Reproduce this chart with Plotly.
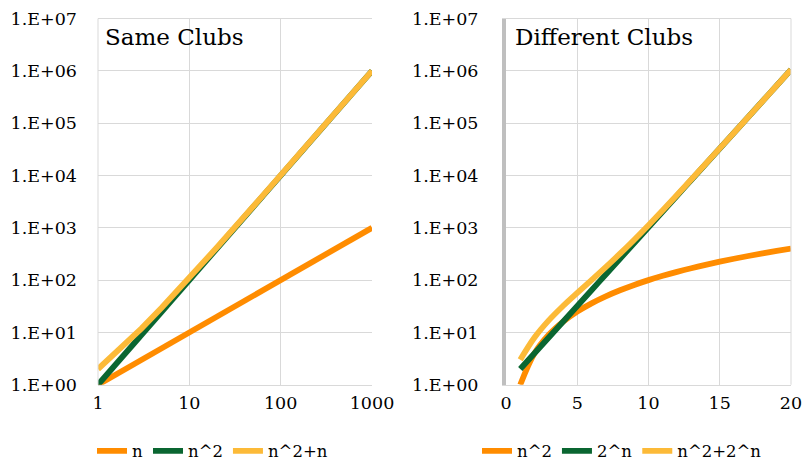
import plotly.graph_objects as go

# Left chart: Same Clubs
n_left = [1, 2, 3, 5, 10, 20, 50, 100, 200, 500, 1000]
s_n = [1, 2, 3, 5, 10, 20, 50, 100, 200, 500, 1000]
s_n2 = [1, 4, 9, 25, 100, 400, 2500, 10000, 40000, 250000, 1000000]
s_n2n = [2, 6, 12, 30, 110, 420, 2550, 10100, 40200, 250500, 1001000]

# Right chart: Different Clubs
n_right = list(range(1, 21))
d_n2 = [1, 4, 9, 16, 25, 36, 49, 64, 81, 100, 121, 144, 169, 196, 225, 256, 289, 324, 361, 400]
d_2n = [2, 4, 8, 16, 32, 64, 128, 256, 512, 1024, 2048, 4096, 8192, 16384, 32768,
        65536, 131072, 262144, 524288, 1048576]
d_sum = [3, 8, 17, 32, 57, 100, 177, 320, 593, 1124, 2169, 4240, 8361, 16580, 32993,
         65792, 131361, 262468, 524649, 1048976]

y_tickvals = [1, 10, 100, 1000, 10000, 100000, 1000000, 10000000]
y_ticktext = ["1.E+00", "1.E+01", "1.E+02", "1.E+03", "1.E+04", "1.E+05", "1.E+06", "1.E+07"]

ORANGE = "#FF8C00"
GREEN = "#0A6631"
YELLOW = "#FCBA38"
FONT = "DejaVu Serif"
LW = 5.8
TICKSIZE = 17.5
LEGSIZE = 16.5

fig = go.Figure()

fig.add_trace(go.Scatter(x=n_left, y=s_n, name="n", mode="lines",
                         line=dict(color=ORANGE, width=LW), xaxis="x", yaxis="y", legend="legend"))
fig.add_trace(go.Scatter(x=n_left, y=s_n2, name="n^2", mode="lines",
                         line=dict(color=GREEN, width=LW), xaxis="x", yaxis="y", legend="legend"))
fig.add_trace(go.Scatter(x=n_left, y=s_n2n, name="n^2+n", mode="lines",
                         line=dict(color=YELLOW, width=LW), xaxis="x", yaxis="y", legend="legend"))

fig.add_trace(go.Scatter(x=n_right, y=d_n2, name="n^2", mode="lines",
                         line=dict(color=ORANGE, width=LW, shape="spline"), xaxis="x2", yaxis="y2", legend="legend2"))
fig.add_trace(go.Scatter(x=n_right, y=d_2n, name="2^n", mode="lines",
                         line=dict(color=GREEN, width=LW, shape="spline"), xaxis="x2", yaxis="y2", legend="legend2"))
fig.add_trace(go.Scatter(x=n_right, y=d_sum, name="n^2+2^n", mode="lines",
                         line=dict(color=YELLOW, width=LW, shape="spline"), xaxis="x2", yaxis="y2", legend="legend2"))

W, H = 803, 469
ytop, ybot = 19, 394
ydom = [1 - ybot / H, 1 - ytop / H]
GRID = "#D9D9D9"

yaxis_common = dict(type="log", range=[0, 7], tickvals=y_tickvals, ticktext=y_ticktext,
                    showgrid=True, gridcolor=GRID, gridwidth=1, zeroline=False, automargin=False,
                    tickfont=dict(family=FONT, size=TICKSIZE, color="#000000"),
                    ticks="", ticklabelstandoff=20, domain=ydom)

xtick = dict(family=FONT, size=TICKSIZE, color="#000000")

fig.update_layout(
    width=W, height=H,
    margin=dict(l=0, r=0, t=0, b=0),
    paper_bgcolor="white", plot_bgcolor="white",
    font=dict(family=FONT, size=16, color="#000000"),
    xaxis=dict(type="log", range=[0, 3], tickvals=[1, 10, 100, 1000], ticktext=["1", "10", "100", "1000"],
               domain=[98 / W, 372 / W], anchor="y", showgrid=True, gridcolor=GRID, zeroline=False,
               showline=True, linecolor=GRID, linewidth=1, mirror=True, ticks="", automargin=False,
               ticklabelstandoff=2, tickfont=xtick),
    yaxis=dict(anchor="x", showline=False, **yaxis_common),
    xaxis2=dict(range=[0, 20], tickvals=[0, 5, 10, 15, 20], domain=[506 / W, 791 / W], anchor="y2",
                showgrid=True, gridcolor=GRID, zeroline=False, automargin=False,
                showline=True, linecolor=GRID, linewidth=1, mirror=True, ticks="",
                ticklabelstandoff=2, tickfont=xtick),
    yaxis2=dict(anchor="x2", showline=True, linecolor="#BFBFBF", linewidth=4, mirror=False, **yaxis_common),
    legend=dict(orientation="h", x=92 / W, y=1 - 462 / H, xanchor="left", yanchor="middle",
                font=dict(family=FONT, size=LEGSIZE, color="#000000"), bgcolor="rgba(0,0,0,0)",
                itemwidth=30, tracegroupgap=0),
    legend2=dict(orientation="h", x=477 / W, y=1 - 462 / H, xanchor="left", yanchor="middle",
                 font=dict(family=FONT, size=LEGSIZE, color="#000000"), bgcolor="rgba(0,0,0,0)",
                 itemwidth=30, tracegroupgap=0),
    showlegend=True,
)

fig.add_shape(type="line", xref="x domain", yref="y domain", x0=0, x1=0, y0=0, y1=1,
              line=dict(color=GRID, width=1))
fig.add_shape(type="line", xref="x2 domain", yref="y2 domain", x0=1, x1=1, y0=0, y1=1,
              line=dict(color=GRID, width=1))

fig.add_annotation(text="Same Clubs", xref="x domain", yref="y domain", x=0.02, y=0.95,
                   xanchor="left", yanchor="middle", showarrow=False,
                   font=dict(family=FONT, size=23, color="#000000"))
fig.add_annotation(text="Different Clubs", xref="x2 domain", yref="y2 domain", x=0.025, y=0.95,
                   xanchor="left", yanchor="middle", showarrow=False,
                   font=dict(family=FONT, size=23, color="#000000"))

fig.write_html("out.html", config={"displayModeBar": False},
               post_script="document.body.style.margin='0';document.body.style.overflow='hidden';")
